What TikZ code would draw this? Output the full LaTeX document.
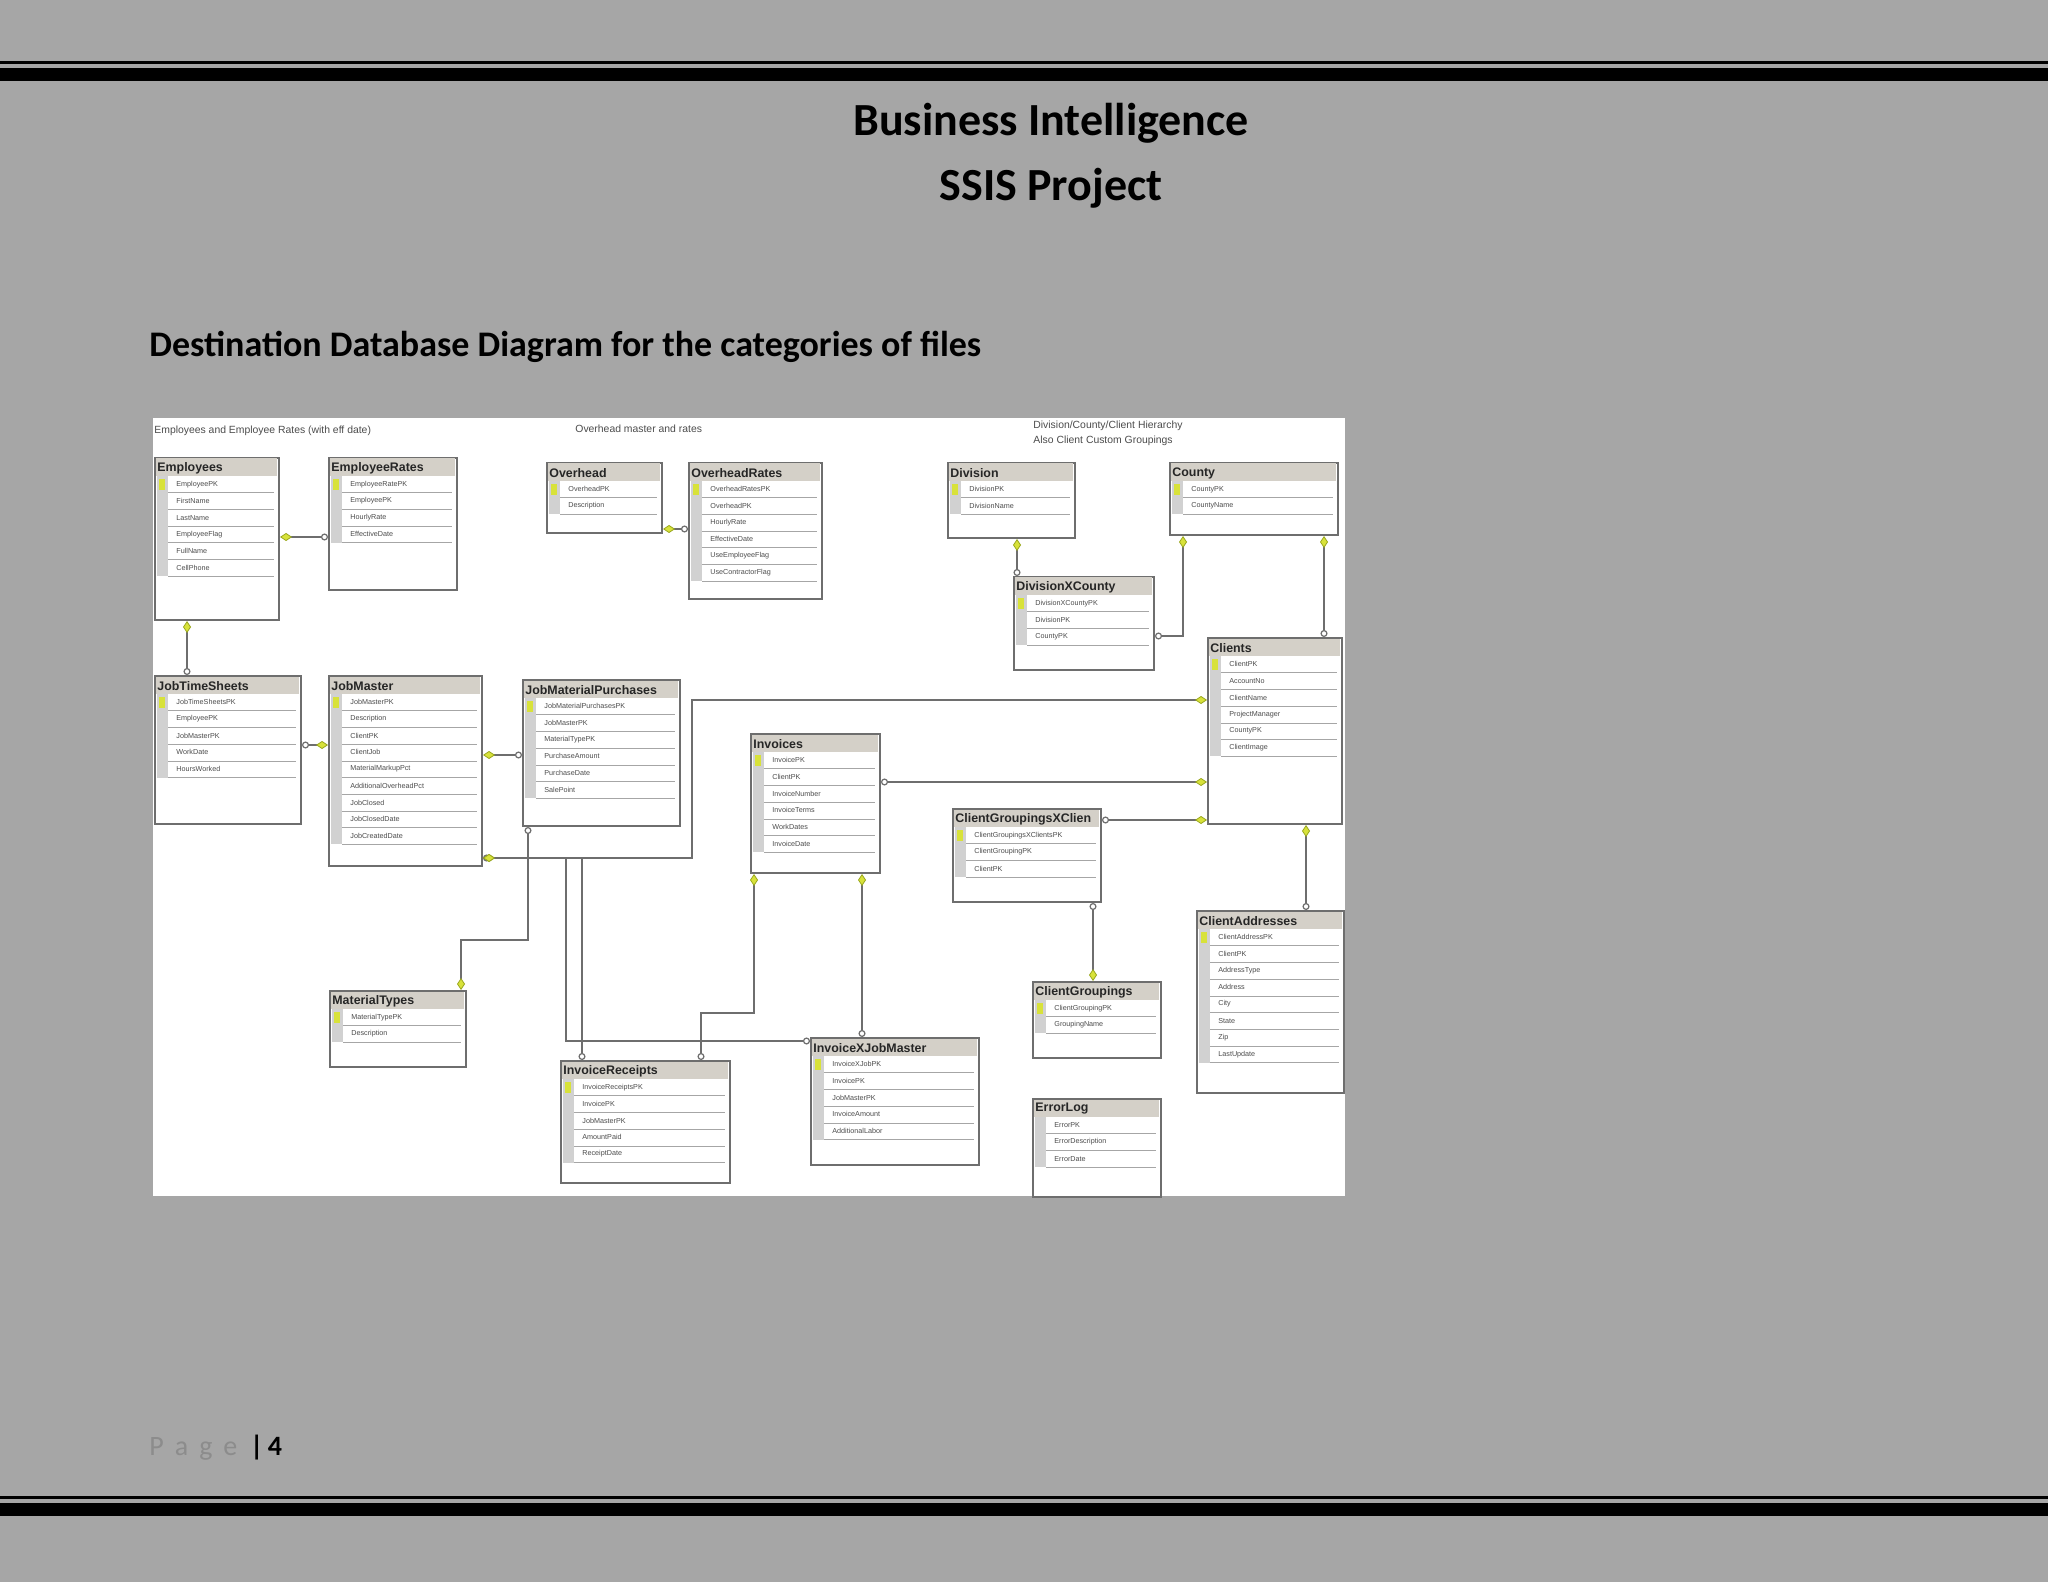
\documentclass[tikz,border=0pt]{standalone}
\usepackage{fontspec}
\setmainfont{Carlito}
\newfontfamily\tblfont{Liberation Sans}
\usetikzlibrary{arrows.meta}
\definecolor{pagebg}{HTML}{A6A6A6}
\definecolor{hdrc}{HTML}{D4D0C8}
\definecolor{linec}{HTML}{6E6E6E}
\definecolor{keyc}{HTML}{D8E23A}
\definecolor{keyd}{HTML}{9AA820}
\tikzset{
 tbl/.style={draw=linec, line width=1pt, fill=white, inner sep=0pt},
 ttl/.style={font=\tblfont\bfseries\fontsize{6.2}{7}\selectfont, inner sep=0pt, text=black!85},
 fld/.style={font=\tblfont\fontsize{3.6}{4}\selectfont, inner sep=0pt, text=black!70},
 note/.style={font=\tblfont\fontsize{5.2}{6}\selectfont, inner sep=0pt, text=black!70, anchor=west},
 rel/.style={draw=linec, line width=1.3pt},
 km/.style={arrows={Diamond[fill=keyc,color=keyd,line width=0.4pt,length=6pt,width=4pt]-Circle[open,length=3.5pt,width=3.5pt,fill=white,line width=0.6pt]}},
}
\newcommand\dbtable[8]{%
 \node[tbl, minimum width={(#4-#2)*0.5pt}, minimum height={(#5-#3)*0.5pt}, anchor=north west] (#1) at (#2,#3) {};
 \fill[hdrc] ({#2+1.5},{#3+1.5}) rectangle ({#4-1.5},{#3+19});
 \node[ttl, anchor=west] at ({#2+3},{#3+11}) {#6};
 \foreach \f [count=\i] in {#7} {
   \pgfmathsetmacro\ya{#3+19+(\i-1)*16.7}
   \pgfmathsetmacro\yb{\ya+16.7}
   \fill[black!18] ({#2+3},\ya) rectangle ({#2+14},\yb);
   \draw[black!35, line width=0.3pt] ({#2+14},\yb) -- ({#4-4},\yb);
   \node[fld, anchor=west] at ({#2+22},{\ya+8.3}) {\f};
 }
 \ifnum#8=1 \fill[keyc] ({#2+5},{#3+22}) rectangle ({#2+11},{#3+33}); \fi
}
\begin{document}
\begin{tikzpicture}[x=0.5pt,y=-0.5pt]
\useasboundingbox (0,0) rectangle (2048,1582);
\fill[pagebg] (0,0) rectangle (2048,1582);
% bars
\fill[black] (0,61) rectangle (2048,64);
\fill[black] (0,68) rectangle (2048,81);
\fill[black] (0,1496) rectangle (2048,1499);
\fill[black] (0,1503) rectangle (2048,1516);
% titles
\node[font=\bfseries\fontsize{23}{26}\selectfont] (t1) at (1051,123) {Business Intelligence};
\node[font=\bfseries\fontsize{23}{26}\selectfont] (t2) at (1051,188) {SSIS Project};
\node[font=\bfseries\fontsize{18}{21}\selectfont, anchor=west, inner sep=0pt] (t3) at (149,347) {Destination Database Diagram for the categories of files};
\node[font=\fontsize{14}{16}\selectfont, anchor=west, inner sep=0pt] (pg) at (149,1448) {\textcolor{black!45}{P\ \,a\ \,g\ \,e} \ \textbf{|\,4}};
% diagram area
\fill[white] (153,418) rectangle (1345,1196);
\node[note] (n1) at (154,431) {Employees and Employee Rates (with eff date)};
\node[note] (n2) at (575,429) {Overhead master and rates};
\node[note] (n3) at (1033,426) {Division/County/Client Hierarchy};
\node[note] (n4) at (1033,441) {Also Client Custom Groupings};
\dbtable{Employees}{154}{457}{278}{619}{Employees}{EmployeePK,FirstName,LastName,EmployeeFlag,FullName,CellPhone}{1}
\dbtable{EmployeeRates}{328}{457}{456}{589}{EmployeeRates}{EmployeeRatePK,EmployeePK,HourlyRate,EffectiveDate}{1}
\dbtable{Overhead}{546}{462}{661}{532}{Overhead}{OverheadPK,Description}{1}
\dbtable{OverheadRates}{688}{462}{821}{598}{OverheadRates}{OverheadRatesPK,OverheadPK,HourlyRate,EffectiveDate,UseEmployeeFlag,UseContractorFlag}{1}
\dbtable{Division}{947}{462}{1074}{537}{Division}{DivisionPK,DivisionName}{1}
\dbtable{County}{1169}{462}{1337}{534}{County}{CountyPK,CountyName}{1}
\dbtable{DivisionXCounty}{1013}{576}{1153}{669}{DivisionXCounty}{DivisionXCountyPK,DivisionPK,CountyPK}{1}
\dbtable{Clients}{1207}{637}{1341}{823}{Clients}{ClientPK,AccountNo,ClientName,ProjectManager,CountyPK,ClientImage}{1}
\dbtable{JobTimeSheets}{154}{675}{300}{823}{JobTimeSheets}{JobTimeSheetsPK,EmployeePK,JobMasterPK,WorkDate,HoursWorked}{1}
\dbtable{JobMaster}{328}{675}{481}{865}{JobMaster}{JobMasterPK,Description,ClientPK,ClientJob,MaterialMarkupPct,AdditionalOverheadPct,JobClosed,JobClosedDate,JobCreatedDate}{1}
\dbtable{JobMaterialPurchases}{522}{679}{679}{825}{JobMaterialPurchases}{JobMaterialPurchasesPK,JobMasterPK,MaterialTypePK,PurchaseAmount,PurchaseDate,SalePoint}{1}
\dbtable{Invoices}{750}{733}{879}{872}{Invoices}{InvoicePK,ClientPK,InvoiceNumber,InvoiceTerms,WorkDates,InvoiceDate}{1}
\dbtable{CGX}{952}{808}{1100}{901}{ClientGroupingsXClien}{ClientGroupingsXClientsPK,ClientGroupingPK,ClientPK}{1}
\dbtable{ClientAddresses}{1196}{910}{1343}{1092}{ClientAddresses}{ClientAddressPK,ClientPK,AddressType,Address,City,State,Zip,LastUpdate}{1}
\dbtable{MaterialTypes}{329}{990}{465}{1066}{MaterialTypes}{MaterialTypePK,Description}{1}
\dbtable{ClientGroupings}{1032}{981}{1160}{1057}{ClientGroupings}{ClientGroupingPK,GroupingName}{1}
\dbtable{InvoiceReceipts}{560}{1060}{729}{1182}{InvoiceReceipts}{InvoiceReceiptsPK,InvoicePK,JobMasterPK,AmountPaid,ReceiptDate}{1}
\dbtable{InvoiceXJobMaster}{810}{1037}{978}{1164}{InvoiceXJobMaster}{InvoiceXJobPK,InvoicePK,JobMasterPK,InvoiceAmount,AdditionalLabor}{1}
\dbtable{ErrorLog}{1032}{1098}{1160}{1196}{ErrorLog}{ErrorPK,ErrorDescription,ErrorDate}{0}
% relationships
\draw[rel,km] (Employees.east |- 0,537) -- (EmployeeRates.west |- 0,537);
\draw[rel,km] (Overhead.east |- 0,529) -- (OverheadRates.west |- 0,529);
\draw[rel,km] (Employees.south -| 187,0) -- (JobTimeSheets.north -| 187,0);
\draw[rel,km] (JobMaster.west |- 0,745) -- (JobTimeSheets.east |- 0,745);
\draw[rel,km] (JobMaster.east |- 0,755) -- (JobMaterialPurchases.west |- 0,755);
\draw[rel,km] (Clients.west |- 0,700) -- (692,700) -- (692,858) -- (JobMaster.east |- 0,858);
\draw[rel,km] (MaterialTypes.north -| 461,0) -- (461,940) -- (528,940) -- (JobMaterialPurchases.south -| 528,0);
\draw[rel,km] (JobMaster.east |- 0,858) -- (566,858) -- (566,1041) -- (InvoiceXJobMaster.west |- 0,1041);
\draw[rel,km] (JobMaster.east |- 0,858) -- (582,858) -- (InvoiceReceipts.north -| 582,0);
\draw[rel,km] (Invoices.south -| 754,0) -- (754,1013) -- (701,1013) -- (InvoiceReceipts.north -| 701,0);
\draw[rel,km] (Invoices.south -| 862,0) -- (InvoiceXJobMaster.north -| 862,0);
\draw[rel,km] (Clients.west |- 0,782) -- (Invoices.east |- 0,782);
\draw[rel,km] (Clients.west |- 0,820) -- (CGX.east |- 0,820);
\draw[rel,km] (ClientGroupings.north -| 1093,0) -- (CGX.south -| 1093,0);
\draw[rel,km] (Clients.south -| 1306,0) -- (ClientAddresses.north -| 1306,0);
\draw[rel,km] (Division.south -| 1017,0) -- (DivisionXCounty.north -| 1017,0);
\draw[rel,km] (County.south -| 1183,0) -- (1183,636) -- (DivisionXCounty.east |- 0,636);
\draw[rel,km] (County.south -| 1324,0) -- (Clients.north -| 1324,0);
\end{tikzpicture}
\end{document}
